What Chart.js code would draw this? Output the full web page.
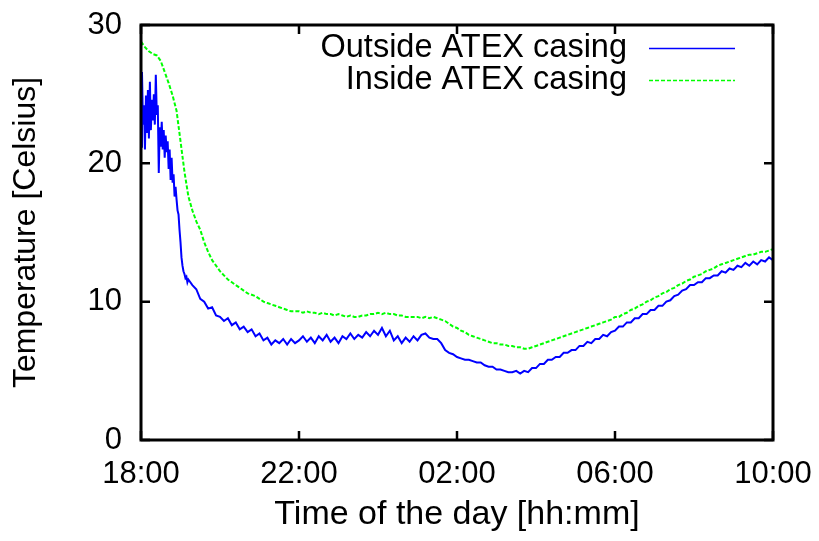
<!DOCTYPE html>
<html>
<head>
<meta charset="utf-8">
<script src="https://cdn.jsdelivr.net/npm/chart.js@4/dist/chart.umd.min.js"></script>
<style>
  html, body { margin:0; padding:0; background:#fff; }
  #c { display:block; }
</style>
</head>
<body>
<canvas id="c" width="819" height="541"></canvas>
<script>
// ── DATA ───────────────────────────────────────────────
// readings every 6 minutes (0.1 h) from 18:00 to 10:00;
// the noisy first 1.2 h of the outside sensor is read finer (every 1.5 min)
const STEP_H = 0.1;
const EARLY_STEP_H = 0.025;

const TICK_LABELS = ['18:00', '22:00', '02:00', '06:00', '10:00'];

const SERIES_NAMES = ['Outside ATEX casing', 'Inside ATEX casing'];

// outside, 18:00 – 19:12
const outsideEarly = [
  21.2, 26.6, 22.8, 24.2, 21.0, 24.9, 22.2, 25.3, 21.8, 25.9,
  22.4, 24.6, 23.1, 25.0, 22.8, 26.4, 23.5, 24.2, 19.3, 22.6,
  21.2, 23.0, 21.0, 22.4, 20.4, 22.0, 20.8, 21.6, 19.6, 21.0,
  18.8, 20.4, 18.6, 19.2, 17.6, 18.3, 17.4, 16.6, 16.3, 15.2,
  14.3, 13.2, 12.6, 12.2, 12.0, 11.7, 11.8, 11.4
];

// outside, 19:12 – 10:00
const outsideTemp = [
                          11.6, 11.2, 10.9, 10.2, 10.0,  9.5,  9.6,  9.0,
   8.9,  8.6,  8.8,  8.3,  8.5,  8.0,  8.2,  7.8,  8.0,  7.5,
   7.7,  7.2,  7.4,  6.9,  7.2,  7.0,  7.3,  6.9,  7.3,  7.0,
   7.2,  7.5,  7.1,  7.4,  7.0,  7.5,  7.2,  7.6,  7.1,  7.4,
   7.0,  7.5,  7.3,  7.7,  7.3,  7.6,  7.4,  7.8,  7.5,  7.9,
   7.6,  8.1,  7.5,  7.9,  7.2,  7.5,  7.0,  7.4,  7.1,  7.5,
   7.2,  7.6,  7.7,  7.4,  7.3,  7.3,  7.0,  6.5,  6.3,  6.2,
   6.0,  5.9,  5.8,  5.8,  5.7,  5.6,  5.6,  5.4,  5.3,  5.3,
   5.1,  5.1,  5.0,  4.9,  4.9,  5.0,  4.8,  5.0,  4.9,  5.2,
   5.2,  5.5,  5.5,  5.8,  5.8,  6.0,  6.0,  6.3,  6.3,  6.5,
   6.5,  6.8,  6.8,  7.1,  7.0,  7.3,  7.3,  7.6,  7.5,  7.8,
   7.9,  8.2,  8.2,  8.5,  8.5,  8.8,  8.8,  9.1,  9.1,  9.4,
   9.4,  9.7,  9.7, 10.0, 10.1, 10.4, 10.5, 10.8, 10.9, 11.2,
  11.2, 11.4, 11.4, 11.7, 11.7, 11.9, 11.9, 12.2, 12.1, 12.4,
  12.3, 12.6, 12.5, 12.8, 12.6, 12.9, 12.7, 13.0, 12.9, 13.2,
  13.0
];

// inside, 18:00 – 10:00
const insideTemp = [
  28.8, 28.4, 28.1, 27.9, 27.8, 27.4, 26.6, 25.8, 24.9, 23.8,
  21.6, 19.4, 17.6, 16.6, 15.8, 15.2, 14.3, 13.6, 13.0, 12.6,
  12.2, 11.9, 11.6, 11.4, 11.2, 11.0, 10.8, 10.6, 10.5, 10.4,
  10.2, 10.0,  9.9,  9.8,  9.7,  9.6,  9.5,  9.4,  9.3,  9.3,
   9.3,  9.2,  9.3,  9.2,  9.2,  9.1,  9.2,  9.1,  9.1,  9.0,
   9.1,  9.0,  8.9,  9.0,  8.9,  8.9,  9.0,  9.0,  9.1,  9.1,
   9.2,  9.1,  9.2,  9.1,  9.1,  9.0,  9.0,  8.9,  8.9,  8.9,
   8.9,  8.8,  8.9,  8.8,  8.9,  8.8,  8.7,  8.6,  8.4,  8.2,
   8.1,  7.9,  7.8,  7.6,  7.5,  7.4,  7.3,  7.2,  7.1,  7.0,
   7.0,  6.9,  6.9,  6.8,  6.8,  6.7,  6.7,  6.6,  6.6,  6.7,
   6.8,  6.9,  7.0,  7.1,  7.2,  7.3,  7.4,  7.5,  7.6,  7.7,
   7.8,  7.9,  8.0,  8.1,  8.2,  8.3,  8.4,  8.5,  8.6,  8.7,
   8.9,  8.9,  9.1,  9.2,  9.4,  9.5,  9.7,  9.8, 10.0, 10.1,
  10.3, 10.4, 10.6, 10.7, 10.9, 11.0, 11.2, 11.3, 11.5, 11.6,
  11.8, 11.9, 12.0, 12.2, 12.3, 12.4, 12.6, 12.7, 12.8, 12.9,
  13.0, 13.1, 13.2, 13.3, 13.4, 13.4, 13.5, 13.6, 13.6, 13.7,
  13.8
];

const earlyEnd = outsideEarly.length * EARLY_STEP_H;
const outsidePoints = [
  ...outsideEarly.map((v, i) => ({ x: i * EARLY_STEP_H, y: v })),
  ...outsideTemp.map((v, i) => ({ x: earlyEnd + i * STEP_H, y: v })),
];
const insidePoints = insideTemp.map((v, i) => ({ x: i * STEP_H, y: v }));

const FONT = 'Liberation Sans, Arial, sans-serif';

// ── FRAME + INWARD TICKS (gnuplot look) ─────────────────
const framePlugin = {
  id: 'frame',
  afterDatasetsDraw(chart) {
    const { ctx, chartArea: a, scales: { x, y } } = chart;
    const len = 9;
    ctx.save();
    ctx.strokeStyle = '#000';
    ctx.lineWidth = 2.5;
    ctx.beginPath();
    x.ticks.forEach(t => {
      const px = x.getPixelForValue(t.value);
      ctx.moveTo(px, a.bottom); ctx.lineTo(px, a.bottom - len);
      ctx.moveTo(px, a.top);    ctx.lineTo(px, a.top + len);
    });
    y.ticks.forEach(t => {
      const py = y.getPixelForValue(t.value);
      ctx.moveTo(a.left, py);  ctx.lineTo(a.left + len, py);
      ctx.moveTo(a.right, py); ctx.lineTo(a.right - len, py);
    });
    ctx.stroke();
    ctx.lineWidth = 3;
    ctx.strokeRect(a.left, a.top, a.right - a.left, a.bottom - a.top);
    ctx.restore();
  }
};

// ── KEY (text on the left, sample on the right) ─────────
const keyPlugin = {
  id: 'key',
  afterDatasetsDraw(chart) {
    const { ctx } = chart;
    const rows = [47, 79];
    ctx.save();
    ctx.font = `32.5px ${FONT}`;
    ctx.textAlign = 'right';
    ctx.textBaseline = 'middle';
    chart.data.datasets.forEach((ds, i) => {
      ctx.fillStyle = '#000';
      ctx.fillText(ds.label, 627, rows[i] + 1);
      ctx.strokeStyle = ds.borderColor;
      ctx.lineWidth = 1.5;
      ctx.setLineDash(ds.borderDash || []);
      ctx.beginPath();
      ctx.moveTo(649, rows[i] + 1.5);
      ctx.lineTo(735, rows[i] + 1.5);
      ctx.stroke();
    });
    ctx.restore();
  }
};

// ── CHART ───────────────────────────────────────────────
new Chart(document.getElementById('c').getContext('2d'), {
  type: 'line',
  data: {
    datasets: [{
      label: SERIES_NAMES[0],
      data: outsidePoints,
      borderColor: '#0000ff',
      borderWidth: 2,
      pointRadius: 0,
      tension: 0,
    }, {
      label: SERIES_NAMES[1],
      data: insidePoints,
      borderColor: '#00ff00',
      borderWidth: 2,
      borderDash: [4, 2],
      pointRadius: 0,
      tension: 0,
    }]
  },
  options: {
    responsive: false,
    animation: false,
    layout: { padding: { top: 25, right: 46, left: 0, bottom: 0 } },
    plugins: { legend: { display: false }, tooltip: { enabled: false } },
    scales: {
      x: {
        type: 'linear',
        min: 0, max: 16,
        afterFit: s => { s.height = 101; s.paddingLeft = 0; s.paddingRight = 0; },
        afterBuildTicks: s => { s.ticks = TICK_LABELS.map((_, i) => ({ value: i * 4 })); },
        grid: { display: false, drawTicks: false },
        border: { display: false },
        ticks: {
          padding: 16,
          color: '#000',
          font: { family: FONT, size: 31 },
          maxRotation: 0,
          callback: (v, i) => TICK_LABELS[i],
        },
        title: {
          display: true,
          text: 'Time of the day [hh:mm]',
          color: '#000',
          font: { family: FONT, size: 34 },
          padding: { bottom: 6 },
        },
      },
      y: {
        min: 0, max: 30,
        afterFit: s => { s.width = 141; s.paddingTop = 0; s.paddingBottom = 0; },
        grid: { display: false, drawTicks: false },
        border: { display: false },
        ticks: {
          stepSize: 10,
          padding: 19,
          color: '#000',
          font: { family: FONT, size: 31 },
        },
        title: {
          display: true,
          text: 'Temperature [Celsius]',
          color: '#000',
          font: { family: FONT, size: 32 },
          padding: { top: 7 },
        },
      },
    },
  },
  plugins: [framePlugin, keyPlugin],
});
</script>
</body>
</html>
